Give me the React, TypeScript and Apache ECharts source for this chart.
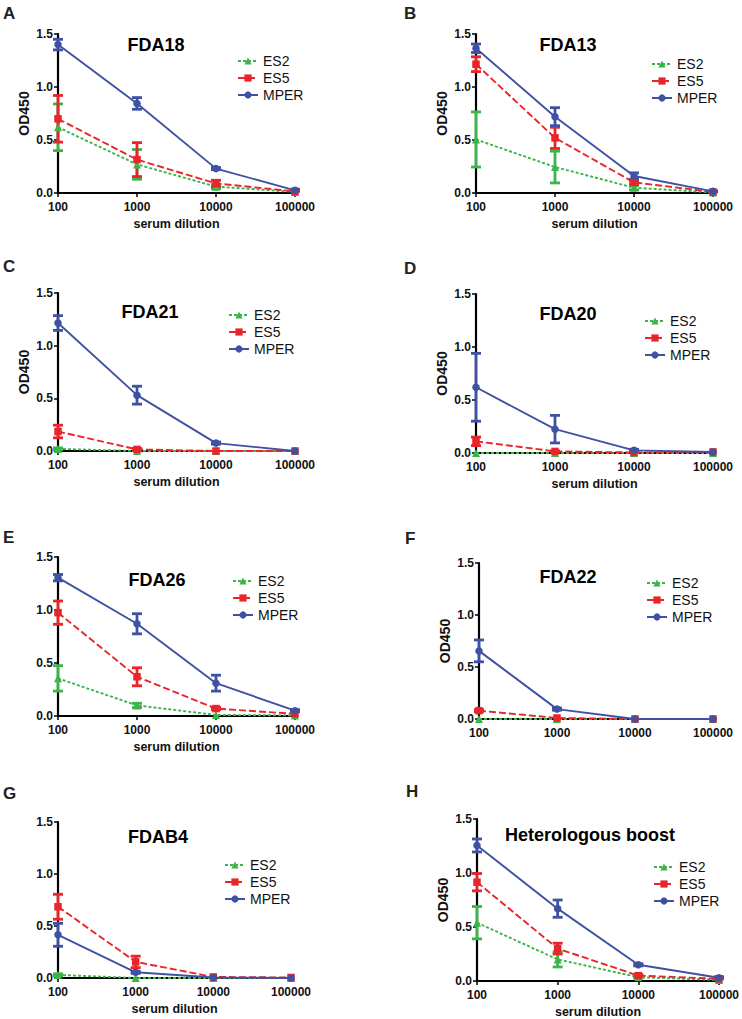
import React, { useEffect, useRef } from "react";
import * as echarts from "echarts";

const DILUTIONS = [100, 1000, 10000, 100000];
const PANEL_LETTERS = ["A", "B", "C", "D", "E", "F", "G", "H"];
const PANEL_TITLES = ["FDA18", "FDA13", "FDA21", "FDA20", "FDA26", "FDA22", "FDAB4", "Heterologous boost"];
const SERIES_NAMES = ["ES2", "ES5", "MPER"];
const Y_TICKS = [0, 0.5, 1.0, 1.5];

// mean OD450 per panel (A..H), at dilutions 100, 1000, 10000, 100000
const es2Mean = [
  [0.62, 0.27, 0.06, 0.01],
  [0.505, 0.245, 0.05, 0.005],
  [0.02, 0, 0, 0],
  [0, 0, 0, 0],
  [0.355, 0.1, 0.01, 0.005],
  [0, 0, 0, 0],
  [0.03, 0, 0, 0],
  [0.54, 0.2, 0.035, 0.01],
];
const es2Err = [
  [0.22, 0.14, 0.02, 0],
  [0.26, 0.15, 0.02, 0],
  [0.01, 0, 0, 0],
  [0, 0, 0, 0],
  [0.12, 0.02, 0, 0],
  [0, 0, 0, 0],
  [0.01, 0, 0, 0],
  [0.15, 0.07, 0.01, 0],
];
const es5Mean = [
  [0.7, 0.315, 0.09, 0.015],
  [1.215, 0.52, 0.1, 0.01],
  [0.185, 0.015, 0, 0],
  [0.11, 0.015, 0.005, 0.01],
  [0.975, 0.37, 0.07, 0.02],
  [0.08, 0.01, 0, 0],
  [0.685, 0.155, 0.01, 0.005],
  [0.915, 0.3, 0.05, 0.02],
];
const es5Err = [
  [0.22, 0.16, 0.03, 0],
  [0.07, 0.1, 0.015, 0],
  [0.06, 0.01, 0, 0],
  [0.04, 0.005, 0, 0],
  [0.11, 0.085, 0.01, 0],
  [0.01, 0, 0, 0],
  [0.12, 0.055, 0, 0],
  [0.08, 0.05, 0.01, 0],
];
const mperMean = [
  [1.4, 0.845, 0.23, 0.025],
  [1.365, 0.72, 0.16, 0.015],
  [1.215, 0.53, 0.075, 0],
  [0.62, 0.225, 0.025, 0.01],
  [1.305, 0.87, 0.31, 0.05],
  [0.655, 0.095, 0, 0],
  [0.415, 0.055, 0.005, 0],
  [1.255, 0.67, 0.15, 0.03],
];
const mperErr = [
  [0.05, 0.055, 0.01, 0.01],
  [0.04, 0.085, 0.03, 0.005],
  [0.07, 0.085, 0.01, 0],
  [0.32, 0.13, 0.01, 0],
  [0.03, 0.095, 0.075, 0.01],
  [0.105, 0.01, 0, 0],
  [0.11, 0.01, 0, 0],
  [0.06, 0.08, 0.01, 0.01],
];

const COLORS = ["#3bb44a", "#e8252a", "#3f51a3"];
const DASHES: any[] = [[3, 2], [7, 3], "solid"];
const SYMBOLS = ["triangle", "rect", "circle"];
const FONT = "'Liberation Sans', Arial, Helvetica, sans-serif";

// layout of each panel (plot area in px)
const GRIDS = [
  { left: 58, top: 34, width: 237, height: 159 },
  { left: 476, top: 34, width: 237, height: 159 },
  { left: 58, top: 293, width: 237, height: 158 },
  { left: 476, top: 294, width: 237, height: 159 },
  { left: 58, top: 557, width: 237, height: 159 },
  { left: 479, top: 563, width: 234, height: 156 },
  { left: 58, top: 822, width: 233, height: 156 },
  { left: 477, top: 819, width: 244, height: 163 },
];
const SHOW_YNAME = [true, true, true, true, false, true, false, true];
const SHOW_XNAME = [true, true, true, true, true, false, true, true];
const LETTER_POS = [[3, 13], [404, 13], [3, 266], [404, 268], [3, 537], [405, 538], [3, 793], [406, 791]];
const TITLE_POS = [[156, 45], [568, 45], [150, 312], [568, 314], [157, 580], [568, 577], [158, 837], [590, 835]];
const LEGEND_POS = [[237, 54], [651, 57], [228, 308], [644, 314], [232, 574], [646, 576], [224, 858], [653, 860]];

function buildOption() {
  const means = [es2Mean, es5Mean, mperMean];
  const errs = [es2Err, es5Err, mperErr];
  const grid: any[] = [];
  const xAxis: any[] = [];
  const yAxis: any[] = [];
  const series: any[] = [];
  const legend: any[] = [];
  const graphic: any[] = [];

  GRIDS.forEach((g, p) => {
    grid.push({ ...g, containLabel: false });
    xAxis.push({
      type: "log",
      logBase: 10,
      gridIndex: p,
      min: 100,
      max: 100000,
      name: SHOW_XNAME[p] ? "serum dilution" : "",
      nameLocation: "middle",
      nameGap: 24,
      nameTextStyle: { fontSize: 12.5, fontWeight: "bold", color: "#111", fontFamily: FONT },
      axisLine: { show: true, lineStyle: { color: "#000", width: 2.2 } },
      axisTick: { show: true, length: 4, lineStyle: { color: "#000", width: 1.5 } },
      minorTick: { show: false },
      splitLine: { show: false },
      axisLabel: {
        fontSize: 12,
        fontWeight: "bold",
        color: "#111",
        margin: 8,
        fontFamily: FONT,
        formatter: (v: number) => String(Math.round(v)),
      },
    });
    yAxis.push({
      type: "value",
      gridIndex: p,
      min: 0,
      max: 1.5,
      interval: 0.5,
      name: SHOW_YNAME[p] ? "OD450" : "",
      nameLocation: "middle",
      nameGap: 27,
      nameTextStyle: { fontSize: 14, fontWeight: "bold", color: "#111", fontFamily: FONT },
      axisLine: { show: true, lineStyle: { color: "#000", width: 2.2 } },
      axisTick: { show: true, length: 4, lineStyle: { color: "#000", width: 1.5 } },
      splitLine: { show: false },
      axisLabel: {
        fontSize: 12,
        fontWeight: "bold",
        color: "#111",
        margin: 5,
        fontFamily: FONT,
        formatter: (v: number) => (Y_TICKS.includes(v) ? v.toFixed(1) : ""),
      },
    });

    SERIES_NAMES.forEach((name, s) => {
      const mean = means[s][p];
      const err = errs[s][p];
      series.push({
        type: "custom",
        name: name + " error",
        xAxisIndex: p,
        yAxisIndex: p,
        clip: false,
        z: 3,
        encode: { x: 0, y: [1, 2] },
        data: DILUTIONS.map((d, i) => [d, Math.max(0, mean[i] - err[i]), mean[i] + err[i]]),
        renderItem: (params: any, api: any) => {
          const x = api.value(0);
          const lo = api.value(1);
          const hi = api.value(2);
          if (hi - lo < 0.01) return { type: "group", children: [] };
          const pLo = api.coord([x, lo]);
          const pHi = api.coord([x, hi]);
          const w = 5;
          const style = { stroke: COLORS[s], lineWidth: 2.8 };
          return {
            type: "group",
            children: [
              { type: "line", shape: { x1: pLo[0], y1: pLo[1], x2: pHi[0], y2: pHi[1] }, style },
              { type: "line", shape: { x1: pHi[0] - w, y1: pHi[1], x2: pHi[0] + w, y2: pHi[1] }, style },
              { type: "line", shape: { x1: pLo[0] - w, y1: pLo[1], x2: pLo[0] + w, y2: pLo[1] }, style },
            ],
          };
        },
      });
      series.push({
        type: "line",
        name,
        xAxisIndex: p,
        yAxisIndex: p,
        clip: false,
        z: 4,
        data: DILUTIONS.map((d, i) => [d, mean[i]]),
        symbol: SYMBOLS[s],
        symbolSize: s === 0 ? 8 : 7.5,
        showSymbol: true,
        itemStyle: { color: COLORS[s] },
        lineStyle: { color: COLORS[s], width: 1.9, type: DASHES[s] },
      });
    });

    legend.push({
      orient: "vertical",
      left: LEGEND_POS[p][0],
      top: LEGEND_POS[p][1],
      data: SERIES_NAMES,
      itemWidth: 20,
      itemHeight: 9,
      itemGap: 3,
      padding: 0,
      selectedMode: false,
      textStyle: { fontSize: 14, color: "#111", fontFamily: FONT },
    });

    graphic.push({
      type: "text",
      x: LETTER_POS[p][0],
      y: LETTER_POS[p][1],
      style: {
        text: PANEL_LETTERS[p],
        font: `bold 17px ${FONT}`,
        fill: "#222",
        align: "left",
        verticalAlign: "middle",
      },
    });
    graphic.push({
      type: "text",
      x: TITLE_POS[p][0],
      y: TITLE_POS[p][1],
      style: {
        text: PANEL_TITLES[p],
        font: `bold 18px ${FONT}`,
        fill: "#000",
        align: "center",
        verticalAlign: "middle",
      },
    });
  });

  return {
    animation: false,
    backgroundColor: "#fff",
    textStyle: { fontFamily: FONT },
    grid,
    xAxis,
    yAxis,
    series,
    legend,
    graphic,
  };
}

export default function App() {
  const ref = useRef<HTMLDivElement>(null);
  useEffect(() => {
    document.body.style.margin = "0";
    if (!ref.current) return;
    const chart = echarts.init(ref.current, undefined, { renderer: "svg" });
    chart.setOption(buildOption() as any);
    return () => chart.dispose();
  }, []);
  return <div ref={ref} style={{ width: 742, height: 1019 }} />;
}
